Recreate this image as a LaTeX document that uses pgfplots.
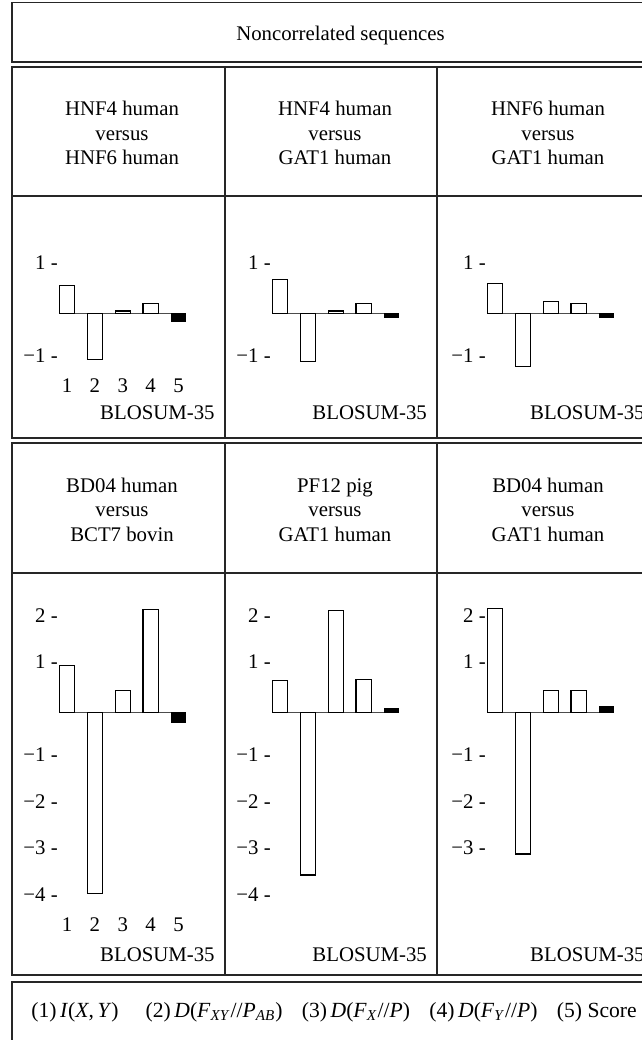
\documentclass[border=0pt]{standalone}
\usepackage{fontspec}
\setmainfont{Liberation Serif}
\usepackage{pgfplots}
\pgfplotsset{compat=1.18}
\newcommand{\tf}{\fontsize{10.4}{12.25}\selectfont}
\pgfplotsset{
  panel/.style={
    scale only axis, x=13.95pt, y=23.25pt, xmin=0.725, xmax=5.3,
    anchor=south west, axis line style={draw=none}, major tick length=0pt,
    clip=false, bar width=7.65pt, bar shift=0pt,
    xtick=\empty,
    yticklabel style={anchor=east, inner sep=0pt, xshift=-0.6pt, yshift=2.25pt, font=\tf},
    xticklabel style={font=\tf, inner sep=3.4pt},
  },
  numx/.style={xtick={1,2,3,4,5}, xticklabels={1,2,3,4,5}},
  rowA/.style={ymin=-1.26, ymax=1.2, ytick={-1,1}, yticklabels={−1 -,1 -}},
  rowB/.style={ymin=-4.25, ymax=2.4, ytick={-4,-3,-2,-1,1,2}, yticklabels={−4 -,−3 -,−2 -,−1 -,1 -,2 -}},
  rowBc/.style={ymin=-4.25, ymax=2.4, ytick={-3,-2,-1,1,2}, yticklabels={−3 -,−2 -,−1 -,1 -,2 -}},
  zl/.style={sharp plot, black!70, line width=0.65pt, forget plot},
  wb/.style={ybar, fill=white, draw=black, line width=0.55pt},
  bb/.style={ybar, fill=black, draw=black, line width=0.55pt, bar width=6.85pt},
}
\begin{document}
\tf
\begin{tikzpicture}
\useasboundingbox (0,0) rectangle (321pt,-520pt);
\clip (0,0) rectangle (321pt,-520pt);
\begin{scope}[x=0.5pt,y=-0.5pt]
  \tikzset{fr/.style={line width=0.6pt, black!85}}
  \draw[fr] (12,2.5) rectangle (655,62);
  \draw[fr] (12,67) rectangle (655,438);
  \draw[fr] (12,196) -- (655,196);
  \draw[fr] (225,67) -- (225,438);
  \draw[fr] (437,67) -- (437,438);
  \draw[fr] (12,443) rectangle (655,975);
  \draw[fr] (12,573) -- (655,573);
  \draw[fr] (225,443) -- (225,975);
  \draw[fr] (437,443) -- (437,975);
  \draw[fr] (12,982) rectangle (655,1060);
  % titles
  \node[anchor=base, inner sep=0pt] at (340.5,40.7) {Noncorrelated sequences};
  \foreach \x/\a/\c in {122/HNF4 human/HNF6 human, 335/HNF4 human/GAT1 human, 548/HNF6 human/GAT1 human}{
    \node[anchor=base, inner sep=0pt] at (\x,115.5) {\a};
    \node[anchor=base, inner sep=0pt] at (\x,140) {versus};
    \node[anchor=base, inner sep=0pt] at (\x,164.5) {\c};
  }
  \foreach \x/\a/\c in {122/BD04 human/BCT7 bovin, 335/PF12 pig/GAT1 human, 548/BD04 human/GAT1 human}{
    \node[anchor=base, inner sep=0pt] at (\x,492) {\a};
    \node[anchor=base, inner sep=0pt] at (\x,516.5) {versus};
    \node[anchor=base, inner sep=0pt] at (\x,541) {\c};
  }
  \foreach \x in {215,427.3,645}{
    \node[anchor=base east, inner sep=0pt] at (\x,419.3) {BLOSUM-35};
    \node[anchor=base east, inner sep=0pt] at (\x,961.7) {BLOSUM-35};
  }
  \node[anchor=base, inner sep=0pt, font=\fontsize{10.8}{12.5}\selectfont] at (334,1017) {(1)\,\textit{I}(\textit{X},\,\textit{Y})\hspace{1.25em}(2)\,\textit{D}(\textit{F}\textsubscript{\textit{XY}}//\textit{P}\textsubscript{\textit{AB}})\hspace{0.9em}(3)\,\textit{D}(\textit{F}\textsubscript{\textit{X}}//\textit{P})\hspace{0.9em}(4)\,\textit{D}(\textit{F}\textsubscript{\textit{Y}}//\textit{P})\hspace{0.9em}(5) Score};
\end{scope}
% Row 1
\begin{axis}[panel, rowA, numx, at={(29.65pt,-185.95pt)}]
  \addplot[zl] coordinates {(0.725,0) (5.275,0)};
  \addplot[wb] coordinates {(1,0.59) (2,-1.00) (3,0.05) (4,0.215)};
  \addplot[bb] coordinates {(5,-0.18)};
\end{axis}
\begin{axis}[panel, rowA, at={(136.15pt,-185.95pt)}]
  \addplot[zl] coordinates {(0.725,0) (5.275,0)};
  \addplot[wb] coordinates {(1,0.73) (2,-1.03) (3,0.05) (4,0.215)};
  \addplot[bb] coordinates {(5,-0.095)};
\end{axis}
\begin{axis}[panel, rowA, at={(243.65pt,-185.95pt)}]
  \addplot[zl] coordinates {(0.725,0) (5.275,0)};
  \addplot[wb] coordinates {(1,0.645) (2,-1.15) (3,0.25) (4,0.215)};
  \addplot[bb] coordinates {(5,-0.085)};
\end{axis}
% Row 2
\begin{axis}[panel, rowB, numx, at={(29.65pt,-455.15pt)}]
  \addplot[zl] coordinates {(0.725,0) (5.275,0)};
  \addplot[wb] coordinates {(1,1.01) (2,-3.88) (3,0.47) (4,2.22)};
  \addplot[bb] coordinates {(5,-0.21)};
\end{axis}
\begin{axis}[panel, rowB, at={(136.15pt,-455.15pt)}]
  \addplot[zl] coordinates {(0.725,0) (5.275,0)};
  \addplot[wb] coordinates {(1,0.69) (2,-3.49) (3,2.19) (4,0.72)};
  \addplot[bb] coordinates {(5,0.095)};
\end{axis}
\begin{axis}[panel, rowBc, at={(243.65pt,-455.15pt)}]
  \addplot[zl] coordinates {(0.725,0) (5.275,0)};
  \addplot[wb] coordinates {(1,2.25) (2,-3.04) (3,0.47) (4,0.47)};
  \addplot[bb] coordinates {(5,0.14)};
\end{axis}
\end{tikzpicture}
\end{document}
